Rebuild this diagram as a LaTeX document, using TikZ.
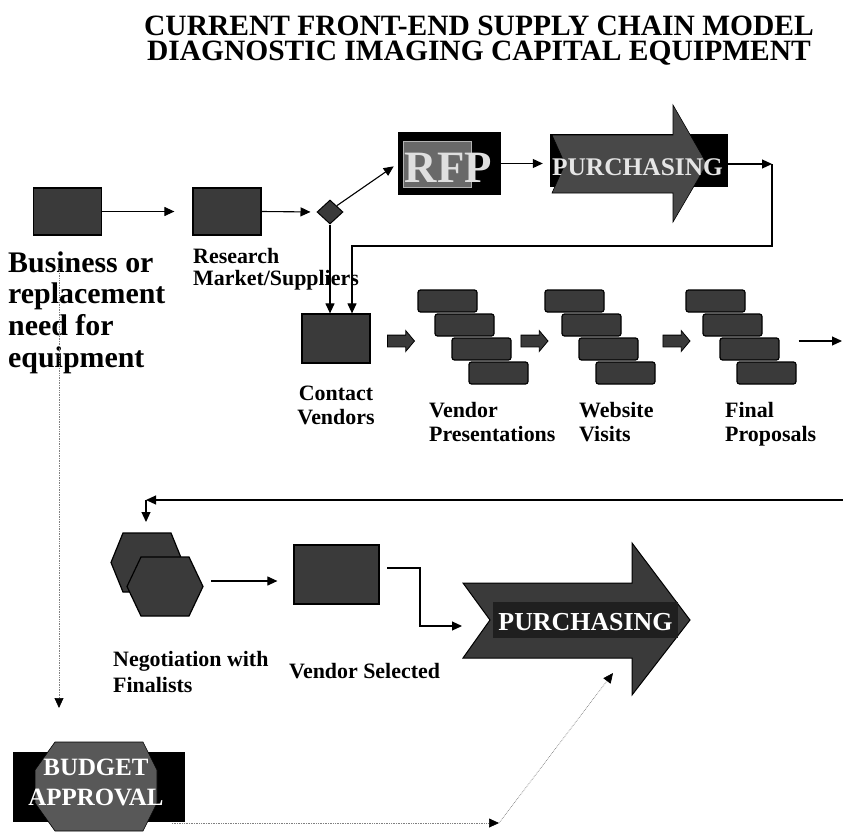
\documentclass[tikz,border=0pt]{standalone}
\usepackage{fontspec}
\setmainfont{Liberation Serif}
\usepackage{tikz}
\usetikzlibrary{arrows.meta, shapes.geometric, shapes.arrows}
\definecolor{boxgray}{RGB}{58, 58, 58}
\definecolor{arrowgray}{RGB}{72, 72, 72}
\definecolor{rfpgray}{RGB}{105, 105, 105}
\definecolor{octgray}{RGB}{88, 88, 88}
\tikzset{
    block/.style={rectangle, draw=black, line width=1.2bp, fill=boxgray, inner sep=0pt},
    stackbox/.style={block, rounded corners=2.5bp, minimum width=59bp, minimum height=22bp},
    fatarrow/.style={single arrow, draw=black, line width=0.8bp, fill=boxgray, minimum height=27bp, minimum width=20bp, inner sep=5.5bp, single arrow tip angle=100, single arrow head extend=4.5bp},
    line/.style={draw, -{Triangle[length=10bp, width=9bp]}, line width=1.1bp},
    dotline/.style={draw, densely dotted, line width=0.7bp, gray, -{Triangle[length=10bp, width=9bp, color=black]}}
}

\begin{document}
\begin{tikzpicture}[
    x=1bp, y=-1bp,
    txt/.style={font=\fontsize{22}{24}\selectfont\bfseries, inner sep=0pt, align=left, anchor=base west},
    bigtxt/.style={font=\fontsize{26}{26}\selectfont\bfseries, inner sep=0pt, anchor=base}
]
    \useasboundingbox (0,0) rectangle (843,833);

    % base anchor of a two-line node sits on its last line
    \node[font=\fontsize{29.6}{25}\selectfont\bfseries, align=center, anchor=base, inner sep=0pt] (title) at (479,60) {CURRENT FRONT-END SUPPLY CHAIN MODEL\\DIAGNOSTIC IMAGING CAPITAL EQUIPMENT};

    % first row
    \node[block, minimum width=68bp, minimum height=47bp] (need) at (67.5,211.5) {};
    \node[block, minimum width=68bp, minimum height=47bp] (research) at (227,211.5) {};
    \node[diamond, draw=black, fill=boxgray, line width=1bp, minimum width=26bp, minimum height=24bp, inner sep=0pt] (choice) at (330,212) {};

    \node[rectangle, fill=black, minimum width=103bp, minimum height=63bp, inner sep=0pt] (rfp) at (449.5,163.5) {};
    \draw[fill=rfpgray, draw=gray!60, line width=1bp] (403,141) rectangle (471,187);
    \node[font=\fontsize{45}{45}\selectfont\bfseries, text=gray!25, anchor=base, inner sep=0pt] (rfptxt) at (448.5,182) {RFP};

    \node[rectangle, fill=black, minimum width=178bp, minimum height=53bp, inner sep=0pt] (purchbox) at (639,160.5) {};
    \draw[fill=arrowgray, line width=0.6bp] (552,135) -- (673,135) -- (673,105) -- (707,164) -- (673,222) -- (673,193) -- (552,193) -- (565,164) -- cycle;
    \node[bigtxt, font=\fontsize{25.5}{26}\selectfont\bfseries, text=gray!20] (purchtop) at (637.5,175) {PURCHASING};
    \coordinate (p1out) at (728,164);
    \coordinate (turn1) at (772,164);
    \coordinate (loop) at (352,246);

    \node[txt, font=\fontsize{30}{31.7}\selectfont\bfseries] (needlbl) at (8,367) {Business or\\replacement\\need for\\equipment};
    \node[txt, font=\fontsize{22}{22}\selectfont\bfseries] (researchlbl) at (193,285) {Research\\Market/Suppliers};

    \draw[line, shorten >=18bp] (need.east) -- (research.west);
    \draw[line, shorten >=6bp] (research.east) -- (choice.west);
    \draw[line, shorten >=5bp] (choice.north east) -- (rfp.west);
    \draw[line, shorten >=7bp] (rfp.east) -- (rfp.east -| purchbox.west);
    \draw[line] (p1out) -- (turn1);

    % second row
    \node[block, minimum width=68bp, minimum height=49bp] (contact) at (336,338.5) {};
    \draw[line] (turn1) |- (loop) -- (loop |- contact.north);
    \draw[line] (choice.south) -- (choice.south |- contact.north);

    \node[fatarrow] (fat1) at (398.5,341) {};
    \node[fatarrow] (fat2) at (532,341) {};
    \node[fatarrow] (fat3) at (674,341) {};

    \foreach \sx/\nm in {418/vp, 545/wv, 686/fp}
        \foreach \i in {0,...,3}
            \node[stackbox] (\nm\i) at ({\sx+17*\i+29.5}, {301+24*\i}) {};

    \coordinate (fpout) at (842,341);
    \draw[line, shorten <=2bp] (fp3.east |- fpout) -- (fpout);

    \node[txt, align=center, anchor=base] (contactlbl) at (336,424) {Contact\\Vendors};
    \node[txt] (vplbl) at (429,441) {Vendor\\Presentations};
    \node[txt] (wvlbl) at (579,441) {Website\\Visits};
    \node[txt] (fplbl) at (725,441) {Final\\Proposals};

    % third row
    \coordinate (retR) at (846,500);
    \coordinate (retL) at (146,500);
    \coordinate (negin) at (146,522);
    \draw[line] (retR) -- (retL);
    \draw[line] (retL) -- (negin);

    \draw[fill=boxgray, line width=1.2bp] (111,562.5) -- (123,533) -- (171,533) -- (183,562.5) -- (171,592) -- (123,592) -- cycle;
    \draw[fill=boxgray, line width=1.2bp] (127,586.5) -- (141,557) -- (189,557) -- (203,586.5) -- (189,616) -- (141,616) -- cycle;
    \coordinate (hexout) at (211,581);

    \node[block, minimum width=85bp, minimum height=59bp] (selected) at (336.5,574.5) {};
    \draw[line, shorten >=16bp] (hexout) -- (hexout -| selected.west);

    \draw[fill=boxgray, line width=1bp] (463,583) -- (632,583) -- (632,543) -- (690,620) -- (632,695) -- (632,658) -- (463,658) -- (490,620) -- cycle;
    \fill[black!88] (493,602) rectangle (678,638);
    \node[bigtxt, text=white] (purchlow) at (585.5,630) {PURCHASING};

    \coordinate (selout) at (387,568);
    \coordinate (bend2) at (420,626);
    \coordinate (p2in) at (462,626);
    \draw[line] (selout) -| (bend2) -- (p2in);

    \node[txt, font=\fontsize{22}{26}\selectfont\bfseries] (neglbl) at (113,692) {Negotiation with\\Finalists};
    \node[txt] (sellbl) at (289,678) {Vendor Selected};

    % budget
    \fill (13,752) rectangle (185,822);
    \draw[fill=octgray, line width=0.6bp] (55,742) -- (143,742) -- (157,770) -- (157,803) -- (143,831) -- (55,831) -- (35,803) -- (35,770) -- cycle;
    \node[bigtxt, font=\fontsize{25}{30}\selectfont\bfseries, text=white, align=center] (budget) at (96,805) {BUDGET\\APPROVAL};

    \coordinate (needdot) at (59,268);
    \coordinate (budin) at (59,708);
    \coordinate (budout) at (172,823);
    \coordinate (bend3) at (499,823);
    \coordinate (p2low) at (613,673);
    \draw[dotline] (needdot) -- (budin);
    \draw[dotline] (budout) -- (bend3);
    \draw[dotline] (bend3) -- (p2low);
\end{tikzpicture}
\end{document}
